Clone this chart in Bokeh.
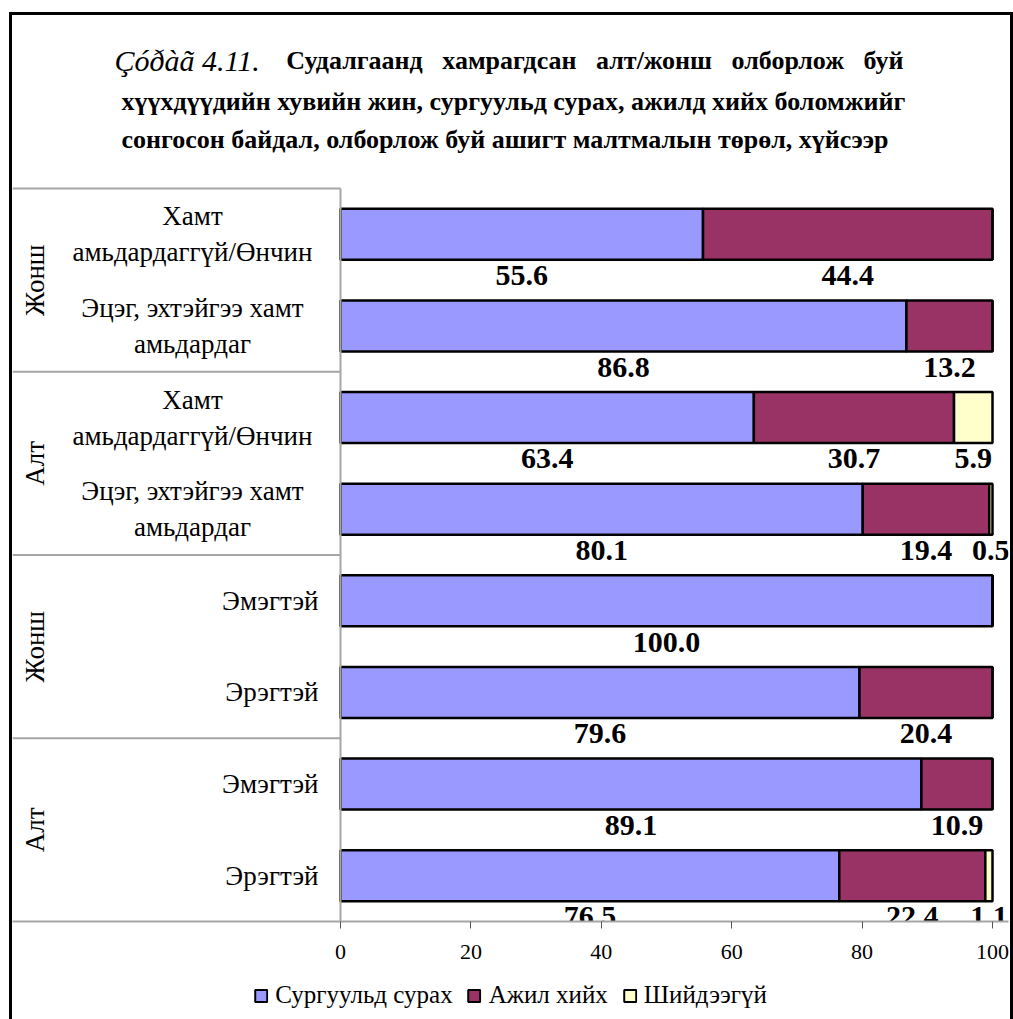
import math
from bokeh.plotting import figure
from bokeh.layouts import column
from bokeh.models import ColumnDataSource, Range1d, FixedTicker, Legend, LegendItem
from bokeh.core.properties import value
from bokeh.embed import file_html
from bokeh.resources import INLINE

# ---------------- data ----------------
groups = ["Жонш", "Алт", "Жонш", "Алт"]
categories = [
    "Хамт\nамьдардаггүй/Өнчин",
    "Эцэг, эхтэйгээ хамт\nамьдардаг",
    "Хамт\nамьдардаггүй/Өнчин",
    "Эцэг, эхтэйгээ хамт\nамьдардаг",
    "Эмэгтэй",
    "Эрэгтэй",
    "Эмэгтэй",
    "Эрэгтэй",
]
series_names = ["Сургуульд сурах", "Ажил хийх", "Шийдээгүй"]
school = [55.6, 86.8, 63.4, 80.1, 100.0, 79.6, 89.1, 76.5]
work = [44.4, 13.2, 30.7, 19.4, 0.0, 20.4, 10.9, 22.4]
undecided = [0.0, 0.0, 5.9, 0.5, 0.0, 0.0, 0.0, 1.1]
x_ticks = [0, 20, 40, 60, 80, 100]
title_prefix = "Çóðàã 4.11."
title_lines = [
    "Судалгаанд\u00a0\u00a0 хамрагдсан\u00a0\u00a0 алт/жонш\u00a0\u00a0 олборлож\u00a0\u00a0 буй",
    "хүүхдүүдийн хувийн жин, сургуульд сурах, ажилд хийх боломжийг",
    "сонгосон байдал, олборлож буй ашигт малтмалын төрөл, хүйсээр",
]

colors = ["#9999FF", "#993366", "#FFFFCC"]
FONT = value("Liberation Serif")

# ---------------- geometry (page pixels) ----------------
CL, CT = 12, 15                  # canvas left / top on the page (inside border)
W = 998
X0, X100 = 340.0, 992.0          # pixel of x=0 and x=100
FR = 1008.0                      # frame right
YB, YT8 = 921.0, 188.0           # pixel of y=0 and y=8
AX_H = 50                        # axis panel height
H = int(YB - CT) + AX_H
LEG_H = 1019 - (CT + H)
sx = (X100 - X0) / 100.0
sy = (YB - YT8) / 8.0


def px_x(px):
    return (px - X0) / sx


def px_y(py):
    return (YB - py) / sy


n = len(categories)
ys = [n - 0.5 - i for i in range(n)]

p = figure(width=W, height=H, output_backend="svg", toolbar_location=None,
           x_range=Range1d(px_x(CL), px_x(FR)), y_range=Range1d(0, px_y(CT)),
           y_axis_location=None,
           min_border_left=0, min_border_right=int(CL + W - FR),
           min_border_top=0, min_border_bottom=AX_H)
p.outline_line_color = None
p.xgrid.visible = False
p.ygrid.visible = False
p.background_fill_color = "white"
p.border_fill_color = "white"

# ---------------- stacked bars ----------------
s1 = [0.0] * n
e1 = [a for a in school]
s2 = e1
e2 = [a + b for a, b in zip(school, work)]
s3 = e2
e3 = [a + b for a, b in zip(e2, undecided)]
bar_h = 51.0 / sy

for (lft, rgt), col in zip([(s1, e1), (s2, e2), (s3, e3)], colors):
    src = ColumnDataSource(dict(y=ys, left=lft, right=rgt))
    p.hbar(y="y", left="left", right="right", height=bar_h, source=src,
           fill_color=col, line_color="black", line_width=2.5)

# ---------------- data labels ----------------
lx, ly, lt = [], [], []
for lft, rgt, vals in [(s1, e1, school), (s2, e2, work), (s3, e3, undecided)]:
    for i in range(n):
        if vals[i] > 0:
            lx.append((lft[i] + rgt[i]) / 2.0)
            ly.append(ys[i] - 0.45)
            lt.append(f"{vals[i]:.1f}")
p.text(x=lx, y=ly, text=lt, text_font=FONT, text_font_style="bold",
       text_font_size="30px", text_align="center", text_baseline="middle",
       text_color="black")

# ---------------- left table ----------------
grid_col = "#A6A6A6"
p.segment(x0=[px_x(CL)] * 4, x1=[0] * 4, y0=[8, 6, 4, 2], y1=[8, 6, 4, 2],
          line_color=grid_col, line_width=2)
p.segment(x0=[0], x1=[0], y0=[0], y1=[8], line_color=grid_col, line_width=2)

multi = ["\n" in c for c in categories]
cat_x = [px_x(192) if m else px_x(318) for m in multi]
cat_align = ["center" if m else "right" for m in multi]
p.text(x=cat_x, y=ys, text=categories, text_align=cat_align, text_baseline="middle",
       text_font=FONT, text_font_size="27px", text_line_height=1.2, text_color="black")

gy = [8 - 2 * i - 1 for i in range(len(groups))]
p.text(x=[px_x(34)] * len(groups), y=gy, text=groups, angle=math.pi / 2,
       text_align="center", text_baseline="middle", text_font=FONT,
       text_font_size="27px", text_color="black")

# ---------------- title ----------------
ty = [60, 101, 139]
p.text(x=[px_x(114)], y=[px_y(ty[0])], text=[title_prefix], text_font=FONT,
       text_font_style="italic", text_font_size="30px", text_baseline="middle",
       text_align="left", text_color="black")
p.text(x=[px_x(903)], y=[px_y(ty[0])], text=[title_lines[0]], text_font=FONT,
       text_font_style="bold", text_font_size="26px", text_baseline="middle",
       text_align="right", text_color="black")
p.text(x=[px_x(121)] * 2, y=[px_y(ty[1]), px_y(ty[2])], text=title_lines[1:], text_font=FONT,
       text_font_style="bold", text_font_size="26px", text_baseline="middle",
       text_align="left", text_color="black")

# ---------------- axis ----------------
ax = p.xaxis[0]
ax.ticker = FixedTicker(ticks=x_ticks)
ax.axis_line_color = grid_col
ax.axis_line_width = 2
ax.major_tick_line_color = "#555555"
ax.major_tick_line_width = 1
ax.major_tick_in = 0
ax.major_tick_out = 7
ax.minor_tick_line_color = None
ax.major_label_text_font = "Liberation Serif"
ax.major_label_text_font_size = "22px"
ax.major_label_text_color = "black"
ax.major_label_standoff = 16

# ---------------- legend (separate strip) ----------------
pl = figure(width=W, height=LEG_H, output_backend="svg", toolbar_location=None,
            x_range=Range1d(0, 1), y_range=Range1d(0, 1),
            x_axis_location=None, y_axis_location=None,
            min_border_left=0, min_border_right=0, min_border_top=0, min_border_bottom=0)
pl.outline_line_color = None
pl.xgrid.visible = False
pl.ygrid.visible = False
pl.background_fill_color = "white"
pl.border_fill_color = "white"
items = []
for nm, col in zip(series_names, colors):
    # tiny hidden glyph (covered by the legend box) that only feeds the legend swatch
    r = pl.hbar(y=[0.5], left=[0.5], right=[0.5001], height=0.01, fill_color=col,
                line_color="black", line_width=2)
    items.append(LegendItem(label=nm, renderers=[r]))
legend = Legend(items=items, orientation="horizontal", location="center",
                label_text_font="Liberation Serif", label_text_font_size="25px",
                label_text_color="black", glyph_width=15, glyph_height=15,
                spacing=14, label_standoff=7, border_line_color=None,
                background_fill_color="white", background_fill_alpha=1.0,
                padding=2, margin=0)
pl.add_layout(legend, "center")

layout = column(p, pl, spacing=0,
                styles={"border-left": "3px solid black", "border-right": "3px solid black",
                        "border-top": "3px solid black", "margin-left": "9px",
                        "margin-top": "12px"})

open("out.html", "w").write(file_html(layout, INLINE))
